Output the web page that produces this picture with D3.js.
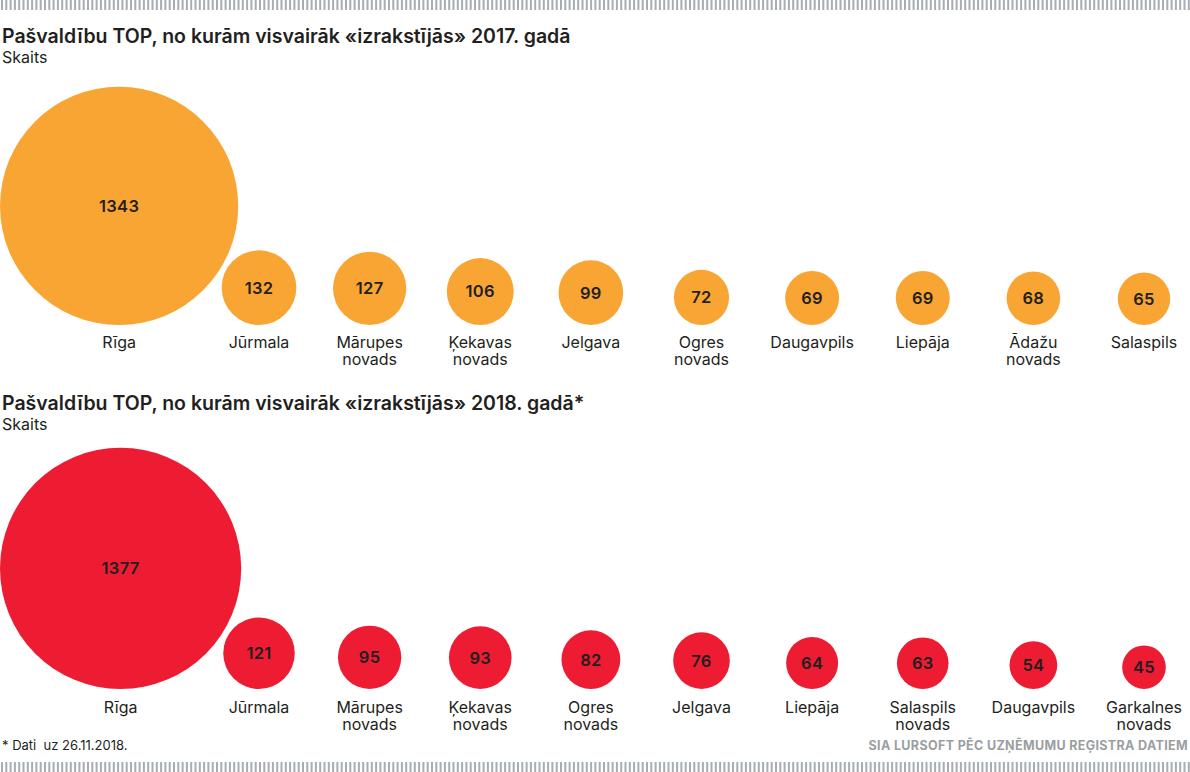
<!DOCTYPE html>
<html><head><meta charset="utf-8">
<script src="https://cdn.jsdelivr.net/npm/d3@7"></script>
<style>
html,body{margin:0;padding:0;background:#fff;}
svg{display:block;font-family:Inter,"Open Sans",sans-serif;}
</style></head>
<body>
<svg id="chart" width="1190" height="772"></svg>
<script>
const cats2017 = ["Rīga","Jūrmala","Mārupes novads","Ķekavas novads","Jelgava","Ogres novads","Daugavpils","Liepāja","Ādažu novads","Salaspils"];
const vals2017 = [1343,132,127,106,99,72,69,69,68,65];
const cats2018 = ["Rīga","Jūrmala","Mārupes novads","Ķekavas novads","Ogres novads","Jelgava","Liepāja","Salaspils novads","Daugavpils","Garkalnes novads"];
const vals2018 = [1377,121,95,93,82,76,64,63,54,45];
const title2017 = "Pašvaldību TOP, no kurām visvairāk «izrakstījās» 2017. gadā";
const title2018 = "Pašvaldību TOP, no kurām visvairāk «izrakstījās» 2018. gadā*";
const unitLabel = "Skaits";
const footnote = "* Dati  uz 26.11.2018.";
const source = "SIA LURSOFT PĒC UZŅĒMUMU REĢISTRA DATIEM";

const W = 1190, H = 772;
const svg = d3.select("#chart");
const ink = "#231f20";

// stripes
function stripes(y0, h){
  const xs = d3.range(1, W, 4.3);
  svg.append("g").selectAll("rect").data(xs).join("rect")
    .attr("x", d => d).attr("y", y0).attr("width", 2).attr("height", h)
    .attr("fill", "#a7adb2");
}
stripes(0, 10);
stripes(762, 10);

const r = d3.scaleSqrt().domain([0, 1377]).range([0, 120.6]);

function panel(cats, vals, color, title, titleY, baseY, labelY){
  svg.append("text").attr("x", 2).attr("y", titleY)
    .attr("font-size", 19.5).attr("font-weight", 600).attr("fill", ink)
    .attr("letter-spacing", 0).text(title);
  svg.append("text").attr("x", 2).attr("y", titleY + 20)
    .attr("font-size", 16).attr("fill", ink).text(unitLabel);

  const x = d3.scalePoint().domain(cats.slice(1)).range([259, 1144]);
  const data = cats.map((c, i) => ({c, v: vals[i], i}));
  const cx = d => d.i === 0 ? r(d.v) : x(d.c);
  const cy = d => baseY - r(d.v);

  const g = svg.append("g");
  g.selectAll("circle").data(data).join("circle")
    .attr("cx", cx).attr("cy", cy).attr("r", d => r(d.v)).attr("fill", color);
  g.selectAll("text.val").data(data).join("text").attr("class", "val")
    .attr("x", cx).attr("y", cy).attr("dy", "0.36em")
    .attr("text-anchor", "middle").attr("font-size", 16.5).attr("font-weight", 600)
    .attr("letter-spacing", 0.3).attr("fill", ink).text(d => d.v);
  const lab = g.selectAll("text.lab").data(data).join("text").attr("class", "lab")
    .attr("x", cx).attr("y", labelY)
    .attr("text-anchor", "middle").attr("font-size", 16).attr("fill", ink);
  lab.selectAll("tspan").data(d => d.c.split(" ").map(t => ({t, x: cx(d)})))
    .join("tspan").attr("x", t => t.x).attr("dy", (t, j) => j ? 17 : 0).text(t => t.t);
}

panel(cats2017, vals2017, "#f9a533", title2017, 43, 325, 348);
panel(cats2018, vals2018, "#ed1c33", title2018, 410, 689, 713);

svg.append("text").attr("x", 2).attr("y", 750).attr("font-size", 13)
  .attr("fill", ink).style("white-space", "pre").text(footnote);
svg.append("text").attr("x", 1188).attr("y", 750).attr("font-size", 12.5)
  .attr("font-weight", 700).attr("letter-spacing", 0.35).attr("fill", "#9a9ea2").attr("text-anchor", "end")
  .text(source);
</script>
</body></html>
